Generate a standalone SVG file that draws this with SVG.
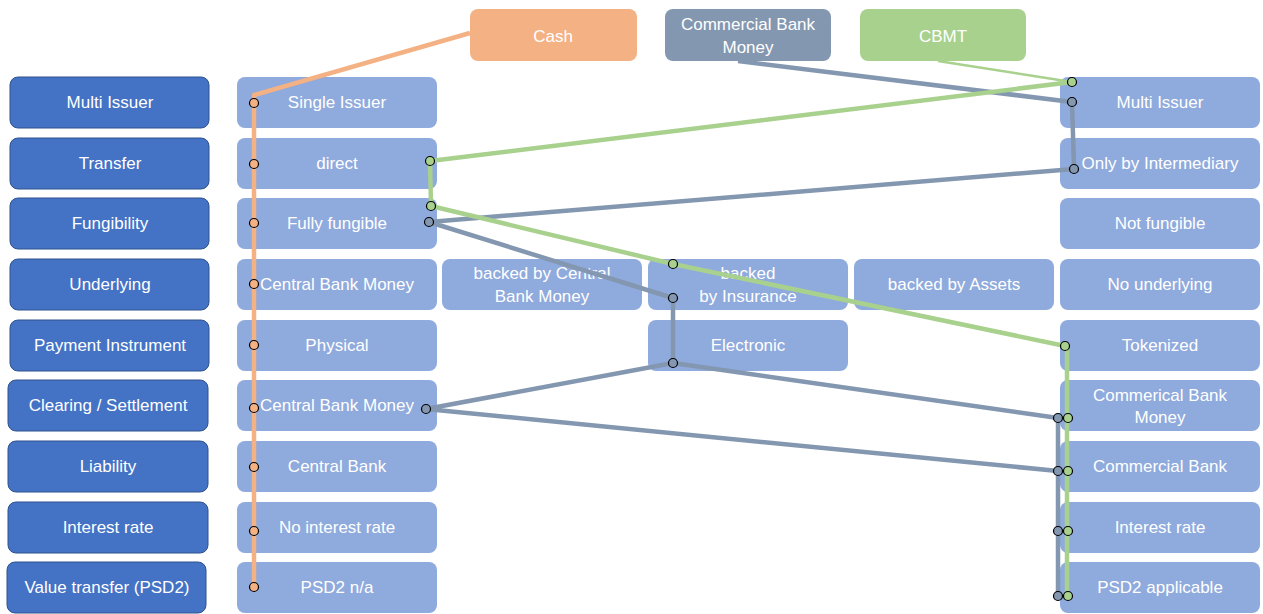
<svg xmlns="http://www.w3.org/2000/svg" width="1263" height="614" viewBox="0 0 1263 614">
<style>
.dk{fill:#4472C4;stroke:#2F528F;stroke-width:1}
.lt{fill:#8FAADC}
.t{font-family:"Liberation Sans",Arial,sans-serif;font-size:17px;fill:#FFFFFF;text-anchor:middle}
.ln{fill:none;stroke-linejoin:round;stroke-linecap:butt}
.o{stroke:#F4B183;stroke-width:4.5}
.g{stroke:#A9D18E;stroke-width:4.5}
.gt{stroke:#A9D18E;stroke-width:2.5}
.b{stroke:#8497B0;stroke-width:4.5}
.d{stroke:#000;stroke-width:1.2}
.do{fill:#F4B183}.dg{fill:#A9D18E}.db{fill:#8497B0}
</style>
<g id="top">
<g id="cash"><rect x="470" y="9" width="167" height="52" rx="8" fill="#F4B183"/><text class="t" x="553" y="42">Cash</text></g>
<g id="cbm"><rect x="665" y="9" width="166" height="52" rx="8" fill="#8497B0"/><text class="t" x="748" y="30">Commercial Bank</text><text class="t" x="748" y="53">Money</text></g>
<g id="cbmt"><rect x="860" y="9" width="166" height="52" rx="8" fill="#A9D18E"/><text class="t" x="943" y="42">CBMT</text></g>
</g>
<g id="categories">
<g id="c1"><rect class="dk" x="10" y="77" width="199" height="51" rx="8"/><text class="t" x="110" y="108">Multi Issuer</text></g>
<g id="c2"><rect class="dk" x="10" y="138" width="199" height="51" rx="8"/><text class="t" x="110" y="169">Transfer</text></g>
<g id="c3"><rect class="dk" x="10" y="198" width="199" height="51" rx="8"/><text class="t" x="110" y="229">Fungibility</text></g>
<g id="c4"><rect class="dk" x="10" y="259" width="199" height="51" rx="8"/><text class="t" x="110" y="290">Underlying</text></g>
<g id="c5"><rect class="dk" x="10" y="320" width="199" height="51" rx="8"/><text class="t" x="110" y="351">Payment Instrument</text></g>
<g id="c6"><rect class="dk" x="8" y="380" width="200" height="51" rx="8"/><text class="t" x="108" y="411">Clearing / Settlement</text></g>
<g id="c7"><rect class="dk" x="8" y="441" width="200" height="51" rx="8"/><text class="t" x="108" y="472">Liability</text></g>
<g id="c8"><rect class="dk" x="8" y="502" width="200" height="51" rx="8"/><text class="t" x="108" y="533">Interest rate</text></g>
<g id="c9"><rect class="dk" x="7" y="562" width="199" height="51" rx="8"/><text class="t" x="107" y="593">Value transfer (PSD2)</text></g>
</g>
<g id="options">
<g id="a1"><rect class="lt" x="237" y="77" width="200" height="51" rx="8"/><text class="t" x="337" y="108">Single Issuer</text></g>
<g id="a2"><rect class="lt" x="237" y="138" width="200" height="51" rx="8"/><text class="t" x="337" y="169">direct</text></g>
<g id="a3"><rect class="lt" x="237" y="198" width="200" height="51" rx="8"/><text class="t" x="337" y="229">Fully fungible</text></g>
<g id="a4"><rect class="lt" x="237" y="259" width="200" height="51" rx="8"/><text class="t" x="337" y="290">Central Bank Money</text></g>
<g id="a5"><rect class="lt" x="237" y="320" width="200" height="51" rx="8"/><text class="t" x="337" y="351">Physical</text></g>
<g id="a6"><rect class="lt" x="237" y="380" width="200" height="51" rx="8"/><text class="t" x="337" y="411">Central Bank Money</text></g>
<g id="a7"><rect class="lt" x="237" y="441" width="200" height="51" rx="8"/><text class="t" x="337" y="472">Central Bank</text></g>
<g id="a8"><rect class="lt" x="237" y="502" width="200" height="51" rx="8"/><text class="t" x="337" y="533">No interest rate</text></g>
<g id="a9"><rect class="lt" x="237" y="562" width="200" height="51" rx="8"/><text class="t" x="337" y="593">PSD2 n/a</text></g>
<g id="u1"><rect class="lt" x="442" y="259" width="200" height="51" rx="8"/><text class="t" x="542" y="279">backed by Central</text><text class="t" x="542" y="302">Bank Money</text></g>
<g id="u2"><rect class="lt" x="648" y="259" width="200" height="51" rx="8"/><text class="t" x="748" y="279">backed</text><text class="t" x="748" y="302">by Insurance</text></g>
<g id="u3"><rect class="lt" x="854" y="259" width="200" height="51" rx="8"/><text class="t" x="954" y="290">backed by Assets</text></g>
<g id="e1"><rect class="lt" x="648" y="320" width="200" height="51" rx="8"/><text class="t" x="748" y="351">Electronic</text></g>
<g id="b1"><rect class="lt" x="1060" y="77" width="200" height="51" rx="8"/><text class="t" x="1160" y="108">Multi Issuer</text></g>
<g id="b2"><rect class="lt" x="1060" y="138" width="200" height="51" rx="8"/><text class="t" x="1160" y="169">Only by Intermediary</text></g>
<g id="b3"><rect class="lt" x="1060" y="198" width="200" height="51" rx="8"/><text class="t" x="1160" y="229">Not fungible</text></g>
<g id="b4"><rect class="lt" x="1060" y="259" width="200" height="51" rx="8"/><text class="t" x="1160" y="290">No underlying</text></g>
<g id="b5"><rect class="lt" x="1060" y="320" width="200" height="51" rx="8"/><text class="t" x="1160" y="351">Tokenized</text></g>
<g id="b6"><rect class="lt" x="1060" y="380" width="200" height="51" rx="8"/><text class="t" x="1160" y="401">Commerical Bank</text><text class="t" x="1160" y="423">Money</text></g>
<g id="b7"><rect class="lt" x="1060" y="441" width="200" height="51" rx="8"/><text class="t" x="1160" y="472">Commercial Bank</text></g>
<g id="b8"><rect class="lt" x="1060" y="502" width="200" height="51" rx="8"/><text class="t" x="1160" y="533">Interest rate</text></g>
<g id="b9"><rect class="lt" x="1060" y="562" width="200" height="51" rx="8"/><text class="t" x="1160" y="593">PSD2 applicable</text></g>
</g>
<g id="connectors">
<polyline class="ln o" points="470,33 254,95 254,587"/>
<polyline class="ln b" points="738,61 1072,102 1074,169 429,222 673,298 673,363 426,409 1058,471"/>
<polyline class="ln b" points="673,363 1058,418 1058,596"/>
<line class="ln gt" x1="938" y1="61" x2="1072" y2="82"/>
<polyline class="ln g" points="1072,82 430,161 431,206 673,264 1065,346 1067,346 1067,596"/>
<g class="d do">
<circle cx="254" cy="103" r="4.5"/><circle cx="254" cy="164" r="4.5"/><circle cx="254" cy="223" r="4.5"/><circle cx="254" cy="284" r="4.5"/><circle cx="254" cy="345" r="4.5"/><circle cx="254" cy="408" r="4.5"/><circle cx="254" cy="467" r="4.5"/><circle cx="254" cy="531" r="4.5"/><circle cx="254" cy="587" r="4.5"/>
</g>
<g class="d db">
<circle cx="1072" cy="102" r="4.5"/><circle cx="1074" cy="169" r="4.5"/><circle cx="429" cy="222" r="4.5"/><circle cx="673" cy="298" r="4.5"/><circle cx="673" cy="363" r="4.5"/><circle cx="426" cy="409" r="4.5"/><circle cx="1058" cy="418" r="4.5"/><circle cx="1058" cy="471" r="4.5"/><circle cx="1058" cy="531" r="4.5"/><circle cx="1058" cy="596" r="4.5"/>
</g>
<g class="d dg">
<circle cx="1072" cy="82" r="4.5"/><circle cx="430" cy="161" r="4.5"/><circle cx="431" cy="206" r="4.5"/><circle cx="673" cy="264" r="4.5"/><circle cx="1065" cy="346" r="4.5"/><circle cx="1068" cy="418" r="4.5"/><circle cx="1068" cy="471" r="4.5"/><circle cx="1068" cy="531" r="4.5"/><circle cx="1068" cy="596" r="4.5"/>
</g>
</g>
</svg>
